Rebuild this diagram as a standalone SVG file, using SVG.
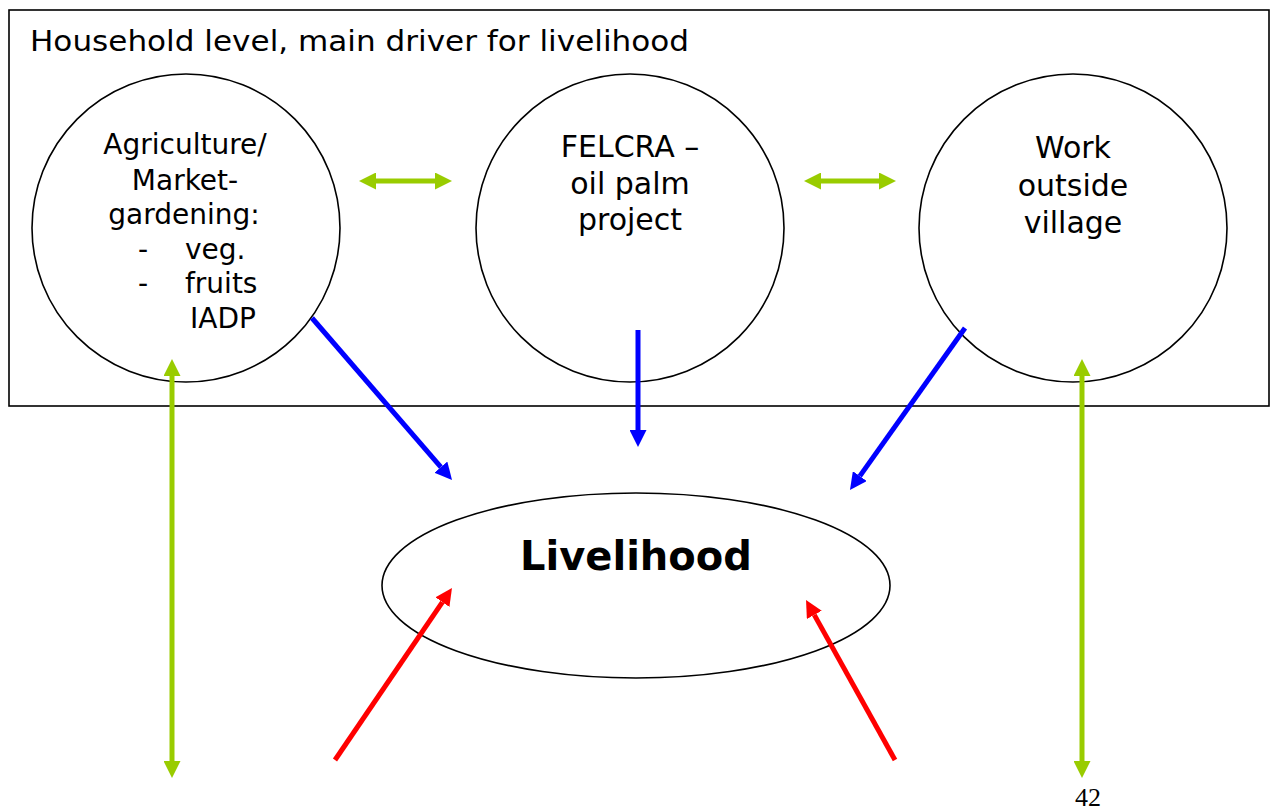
<svg xmlns="http://www.w3.org/2000/svg" width="1276" height="812" viewBox="0 0 1276 812">
  <style>
    .shape { fill: #ffffff; stroke: #000000; stroke-width: 1.6; }
    .t { font-family: "DejaVu Sans", Verdana, sans-serif; fill: #000000; }
    .green { stroke: #99CC00; stroke-width: 5; fill: none; }
    .blue { stroke: #0000FF; stroke-width: 5; fill: none; }
    .red { stroke: #FF0000; stroke-width: 5; fill: none; }
  </style>
  <defs>
    <marker id="ahGreen" markerUnits="userSpaceOnUse" markerWidth="17" markerHeight="17" viewBox="0 0 17 17" refX="0" refY="8.5" orient="auto-start-reverse">
      <path d="M0,0 L17,8.5 L0,17 z" fill="#99CC00"/>
    </marker>
    <marker id="ahBlue" markerUnits="userSpaceOnUse" markerWidth="17" markerHeight="17" viewBox="0 0 17 17" refX="0" refY="8.5" orient="auto">
      <path d="M0,0 L17,8.5 L0,17 z" fill="#0000FF"/>
    </marker>
    <marker id="ahRed" markerUnits="userSpaceOnUse" markerWidth="17" markerHeight="17" viewBox="0 0 17 17" refX="0" refY="8.5" orient="auto">
      <path d="M0,0 L17,8.5 L0,17 z" fill="#FF0000"/>
    </marker>
  </defs>
  <rect width="1276" height="812" fill="#ffffff"/>

  <g id="household">
    <rect class="shape" x="9" y="10" width="1260" height="396"/>
    <text class="t" x="30" y="51" font-size="29" textLength="659" lengthAdjust="spacingAndGlyphs">Household level, main driver for livelihood</text>
  </g>

  <g id="agriculture">
    <circle class="shape" cx="186" cy="228" r="154"/>
    <g class="t" font-size="28">
      <text x="185" y="154" text-anchor="middle">Agriculture/</text>
      <text x="185" y="190" text-anchor="middle">Market-</text>
      <text x="184" y="224" text-anchor="middle">gardening:</text>
      <text x="138" y="259">-</text>
      <text x="185" y="259">veg.</text>
      <text x="138" y="293">-</text>
      <text x="185" y="293">fruits</text>
      <text x="190" y="328">IADP</text>
    </g>
  </g>

  <g id="felcra">
    <circle class="shape" cx="630" cy="228" r="154"/>
    <g class="t" font-size="30" text-anchor="middle">
      <text x="630" y="157">FELCRA –</text>
      <text x="630" y="194">oil palm</text>
      <text x="630" y="230">project</text>
    </g>
  </g>

  <g id="work">
    <circle class="shape" cx="1073" cy="228" r="154"/>
    <g class="t" font-size="30" text-anchor="middle">
      <text x="1073" y="158">Work</text>
      <text x="1073" y="196">outside</text>
      <text x="1073" y="233">village</text>
    </g>
  </g>

  <g id="livelihood">
    <ellipse class="shape" cx="636" cy="585.5" rx="254" ry="92.5"/>
    <text class="t" x="636" y="570" font-size="40" font-weight="bold" text-anchor="middle">Livelihood</text>
  </g>

  <g id="connectors">
    <line class="green" x1="376" y1="181" x2="435" y2="181" marker-start="url(#ahGreen)" marker-end="url(#ahGreen)"/>
    <line class="green" x1="821" y1="181" x2="879" y2="181" marker-start="url(#ahGreen)" marker-end="url(#ahGreen)"/>
    <line class="green" x1="172" y1="376" x2="172" y2="761" marker-start="url(#ahGreen)" marker-end="url(#ahGreen)"/>
    <line class="green" x1="1082" y1="376" x2="1082" y2="761" marker-start="url(#ahGreen)" marker-end="url(#ahGreen)"/>

    <line class="blue" x1="312" y1="318" x2="440.9" y2="467.1" marker-end="url(#ahBlue)"/>
    <line class="blue" x1="638" y1="330" x2="638" y2="430" marker-end="url(#ahBlue)"/>
    <line class="blue" x1="965" y1="328" x2="859.8" y2="476.1" marker-end="url(#ahBlue)"/>

    <line class="red" x1="335" y1="760" x2="442.4" y2="602.1" marker-end="url(#ahRed)"/>
    <line class="red" x1="895" y1="760" x2="814.3" y2="614.9" marker-end="url(#ahRed)"/>
  </g>

  <text x="1075" y="806" font-family="'Liberation Serif', 'Times New Roman', serif" font-size="26" fill="#000000">42</text>
</svg>
